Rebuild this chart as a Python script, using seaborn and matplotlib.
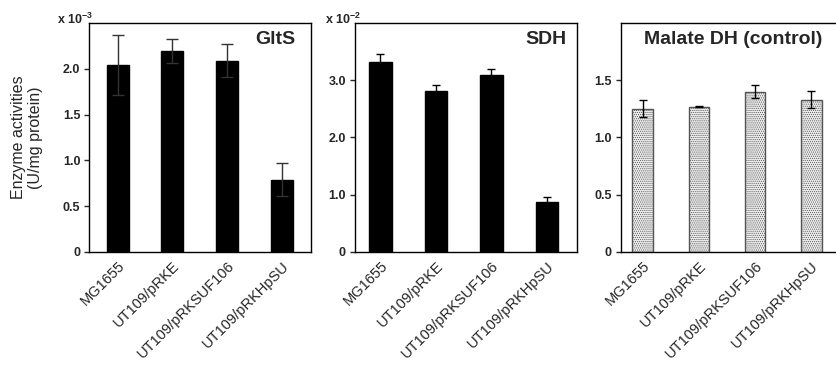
import matplotlib
matplotlib.use("Agg")
import matplotlib.pyplot as plt
import seaborn as sns
import numpy as np
import pandas as pd

strains = ["MG1655", "UT109/pRKE", "UT109/pRKSUF106", "UT109/pRKHpSU"]

glts_values = [2.04, 2.19, 2.09, 0.79]
glts_errors = [0.33, 0.13, 0.18, 0.18]

sdh_values = [3.32, 2.81, 3.09, 0.87]
sdh_errors = [0.14, 0.11, 0.10, 0.09]

mdh_values = [1.25, 1.27, 1.40, 1.33]
mdh_errors = [0.075, 0.005, 0.055, 0.075]

panel_titles = ["GltS", "SDH", "Malate DH (control)"]
scale_labels = [r"x 10$^{\mathbf{-3}}$", r"x 10$^{\mathbf{-2}}$", None]
glts_ticks = [0, 0.5, 1.0, 1.5, 2.0]
sdh_ticks = [0, 1.0, 2.0, 3.0]
mdh_ticks = [0, 0.5, 1.0, 1.5]
ylabel_text = "Enzyme activities\n(U/mg protein)"

sns.set_style("ticks")
plt.rcParams["font.family"] = ["Liberation Sans", "DejaVu Sans"]
plt.rcParams["mathtext.fontset"] = "custom"
plt.rcParams["mathtext.rm"] = "Liberation Sans"
plt.rcParams["mathtext.bf"] = "Liberation Sans:bold"
plt.rcParams["hatch.linewidth"] = 0.5

fig = plt.figure(figsize=(8.37, 3.72), dpi=100)
bottom, height = 0.3226, 0.6156
axes_specs = [
    (0.1067, 0.2645, glts_values, glts_errors, glts_ticks, (0, 2.5), (-0.52, 3.53)),
    (0.4241, 0.2652, sdh_values, sdh_errors, sdh_ticks, (0, 4.0), (-0.46, 3.54)),
    (0.7419, 0.2581, mdh_values, mdh_errors, mdh_ticks, (0, 2.0), (-0.39, 3.46)),
]
title_pos = [(0.93, "right"), (0.955, "right"), (0.52, "center")]
scale_x = [-0.146, -0.135, None]

for i, (left, width, vals, errs, ticks, ylim, xlim) in enumerate(axes_specs):
    ax = fig.add_axes([left, bottom, width, height])
    df = pd.DataFrame({"strain": strains, "value": vals})
    if i < 2:
        sns.barplot(data=df, x="strain", y="value", ax=ax, color="black",
                    saturation=1, width=0.4, errorbar=None, edgecolor="black")
        ecol = "#333333" if i == 0 else "black"
        cap = 4.2 if i == 0 else 3.0
    else:
        sns.barplot(data=df, x="strain", y="value", ax=ax, color="#ececec",
                    saturation=1, width=0.37, errorbar=None,
                    edgecolor="#555555", linewidth=1.0, hatch="........")
        ecol = "black"
        cap = 3.0
    pos = np.arange(len(strains))
    ax.errorbar(pos, vals, yerr=errs, fmt="none", ecolor=ecol,
                elinewidth=1.0, capsize=cap, capthick=1.0, zorder=5)
    ax.set_xlim(*xlim)
    ax.set_ylim(*ylim)
    ax.set_yticks(ticks)
    ax.set_yticklabels(["0"] + [f"{t:.1f}" for t in ticks[1:]],
                       fontsize=9, fontweight="bold")
    ax.set_xticks(pos)
    ax.set_xticklabels(strains, rotation=45, ha="right",
                       rotation_mode="anchor", fontsize=10.5)
    ax.tick_params(axis="x", length=0, pad=5)
    ax.tick_params(axis="y", length=3.5, width=1, direction="out", pad=3)
    for s in ax.spines.values():
        s.set_visible(True)
        s.set_linewidth(1.0)
        s.set_color("black")
    ax.set_xlabel("")
    ax.set_ylabel("")
    tx, tha = title_pos[i]
    ax.text(tx, 0.926, panel_titles[i], transform=ax.transAxes,
            ha=tha, va="center", fontsize=14, fontweight="bold")
    if scale_labels[i]:
        ax.text(scale_x[i], 0.997, scale_labels[i], transform=ax.transAxes,
                ha="left", va="baseline", fontsize=9, fontweight="bold")
    if i == 0:
        ax.set_ylabel(ylabel_text, fontsize=11.5, labelpad=14)

fig.savefig("out.png", dpi=100)
